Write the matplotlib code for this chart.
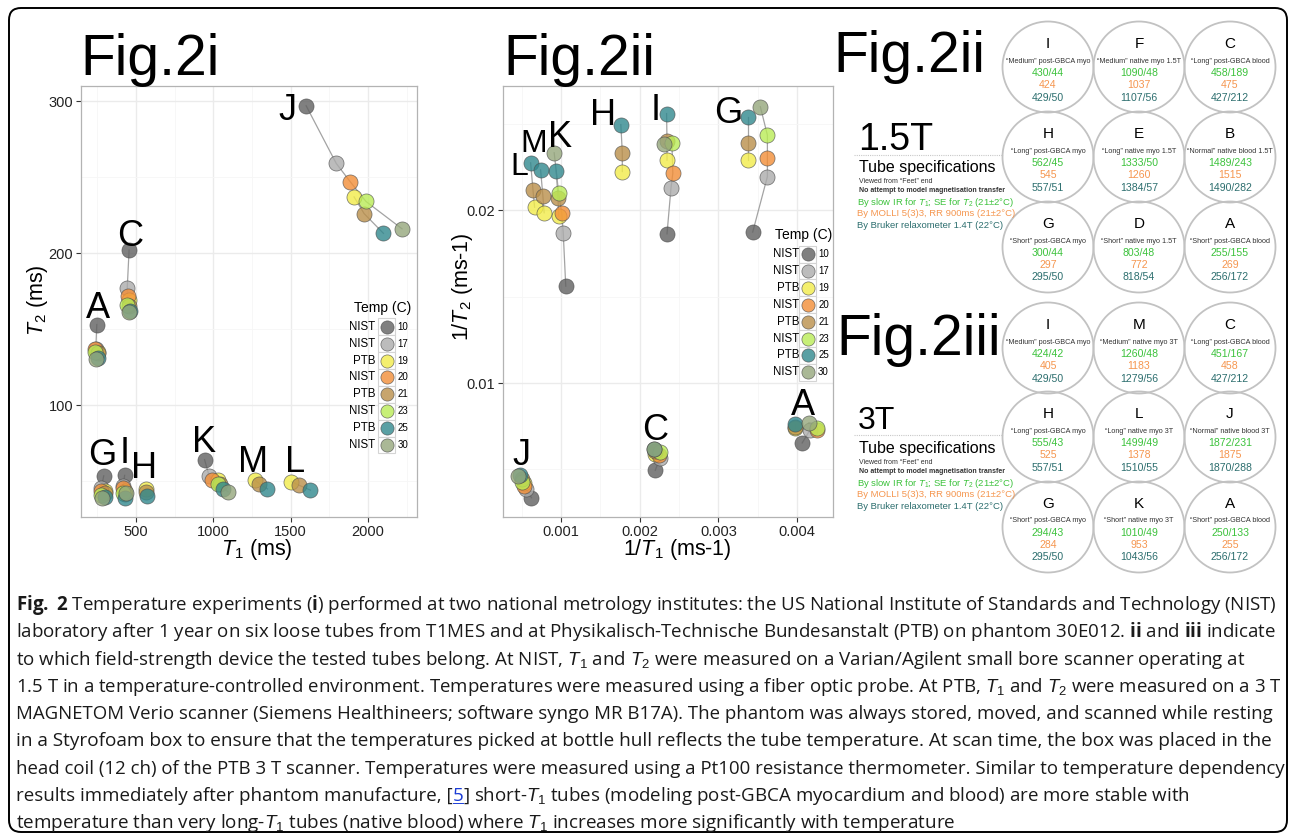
import matplotlib
matplotlib.use("Agg")
import matplotlib.pyplot as plt
import numpy as np
from matplotlib.patches import Circle, Rectangle, FancyBboxPatch

plt.rcParams['font.family'] = ['Liberation Sans', 'DejaVu Sans']
plt.rcParams['mathtext.fontset'] = 'custom'
plt.rcParams['mathtext.rm'] = 'Liberation Sans'
plt.rcParams['mathtext.it'] = 'Liberation Sans:italic'
plt.rcParams['mathtext.bf'] = 'Open Sans:bold'

# ---- data ----
temps = [10, 17, 19, 20, 21, 23, 25, 30]
sites = ["NIST", "NIST", "PTB", "NIST", "PTB", "NIST", "PTB", "NIST"]
temp_colors = ['#606060', '#ababab', '#f2ec4a', '#f28e37',
               '#ba8f4a', '#baec56', '#31888e', '#95a77c']
nan = np.nan

# T1 / T2 (ms) per tube, one value per temperature above (nan = not measured)
A_t1 = [246, 240, 252, 235, 252, 235, 252, 241]
A_t2 = [153, 137, 135, 137, 134, 135, 131, 130]
C_t1 = [455, 443, 455, 446, 455, 443, 459, 457]
C_t2 = [202, 177, 169, 172, 165, 166, 162, 161]
G_t1 = [291, 276, 296, 276, 296, 276, 296, 283]
G_t2 = [53.4, 45.6, 43.7, 43.5, 41.9, 41.1, 39.4, 38.5]
H_t1 = [nan, nan, 562, nan, 562, nan, 568, nan]
H_t2 = [nan, nan, 45.0, nan, 42.9, nan, 40.1, nan]
I_t1 = [426, 417, 426, 413, 426, 415, 427, 434]
I_t2 = [53.7, 47.0, 43.7, 45.2, 41.7, 41.9, 39.1, 42.0]
J_t1 = [1600, 1795, 1910, 1885, 1975, 1987, 2100, 2220]
J_t2 = [297, 259, 237, 247, 226, 234, 213, 216]
K_t1 = [943, 972, 1030, 990, 1040, 1030, 1064, 1095]
K_t2 = [64.1, 53.6, 50.9, 50.5, 48.3, 47.7, 44.9, 42.9]
L_t1 = [nan, nan, 1505, nan, 1552, nan, 1628, nan]
L_t2 = [nan, nan, 49.6, nan, 47.3, nan, 44.0, nan]
M_t1 = [nan, nan, 1272, nan, 1298, nan, 1350, nan]
M_t2 = [nan, nan, 50.4, nan, 48.1, nan, 44.8, nan]

tubes = ["A", "C", "G", "H", "I", "J", "K", "L", "M"]
tube_t1 = dict(zip(tubes, [A_t1, C_t1, G_t1, H_t1, I_t1, J_t1, K_t1, L_t1, M_t1]))
tube_t2 = dict(zip(tubes, [A_t2, C_t2, G_t2, H_t2, I_t2, J_t2, K_t2, L_t2, M_t2]))

# tube specification grids (ref T1/T2, MOLLI T1, Bruker T1/T2)
g15_names = ["I", "F", "C", "H", "E", "B", "G", "D", "A"]
g15_desc = ["“Medium” post-GBCA myo", "“Medium” native myo 1.5T", "“Long” post-GBCA blood",
            "“Long” post-GBCA myo", "“Long” native myo 1.5T", "“Normal” native blood 1.5T",
            "“Short” post-GBCA myo", "“Short” native myo 1.5T", "“Short” post-GBCA blood"]
g15_ref = ["430/44", "1090/48", "458/189", "562/45", "1333/50", "1489/243",
           "300/44", "803/48", "255/155"]
g15_molli = ["424", "1037", "475", "545", "1260", "1515", "297", "772", "269"]
g15_bruker = ["429/50", "1107/56", "427/212", "557/51", "1384/57", "1490/282",
              "295/50", "818/54", "256/172"]

g3_names = ["I", "M", "C", "H", "L", "J", "G", "K", "A"]
g3_desc = ["“Medium” post-GBCA myo", "“Medium” native myo 3T", "“Long” post-GBCA blood",
           "“Long” post-GBCA myo", "“Long” native myo 3T", "“Normal” native blood 3T",
           "“Short” post-GBCA myo", "“Short” native myo 3T", "“Short” post-GBCA blood"]
g3_ref = ["424/42", "1260/48", "451/167", "555/43", "1499/49", "1872/231",
          "294/43", "1010/49", "250/133"]
g3_molli = ["405", "1183", "458", "525", "1378", "1875", "284", "953", "255"]
g3_bruker = ["429/50", "1279/56", "427/212", "557/51", "1510/55", "1870/288",
             "295/50", "1043/56", "256/172"]

GREEN, ORANGE, TEAL = "#3cc23c", "#f5964f", "#2c6e6e"

# ---- layout ----
W, H = 1292, 833
fig = plt.figure(figsize=(W / 100, H / 100), dpi=100)


def frame(l, t, r, b):
    return [l / W, 1 - b / H, (r - l) / W, (b - t) / H]


ax1 = fig.add_axes(frame(81, 86, 417, 517))
ax2 = fig.add_axes(frame(503, 86, 833, 517))


def style_axes(ax):
    for sp in ax.spines.values():
        sp.set_color("#b3b3b3")
        sp.set_linewidth(0.9)
    ax.grid(True, which="major", color="#ebebeb", lw=1.0, zorder=0)
    ax.grid(True, which="minor", color="#f6f6f6", lw=0.6, zorder=0)
    ax.set_axisbelow(True)
    ax.tick_params(which="major", length=3.5, color="#333333", labelsize=10.5,
                   labelcolor="#222222", pad=2)
    ax.tick_params(which="minor", length=0)


def draw_tubes(ax, inverse):
    for name in tubes:
        x = np.array(tube_t1[name], float)
        y = np.array(tube_t2[name], float)
        if inverse:
            x, y = 1 / x, 1 / y
        for site in ("NIST", "PTB"):
            idx = [i for i, s in enumerate(sites) if s == site and not np.isnan(x[i])]
            ax.plot(x[idx], y[idx], color="#a3a3a3", lw=0.9, zorder=2)
        for i in range(len(temps)):
            if not np.isnan(x[i]):
                ax.scatter(x[i], y[i], s=118, color=temp_colors[i], edgecolor="#4d4d4d",
                           linewidth=0.5, alpha=0.8, zorder=3)


def temp_legend(ax, kx, ky, tx, ty, sx, nx, bw):
    dy = 16.9 / 431
    ax.text(tx, ty, "Temp (C)", transform=ax.transAxes, ha="center", va="center",
            fontsize=10)
    for i, (t, s, c) in enumerate(zip(temps, sites, temp_colors)):
        y = ky - i * dy
        ax.add_patch(Rectangle((kx - bw / 2, y - dy / 2), bw, dy, transform=ax.transAxes,
                               facecolor="white", edgecolor="#d4d4d4", lw=0.8, zorder=4))
        ax.scatter(kx, y, s=90, color=c, edgecolor="#4d4d4d", linewidth=0.5, alpha=0.8,
                   transform=ax.transAxes, zorder=5)
        ax.text(sx, y, s, transform=ax.transAxes, ha="right", va="center", fontsize=8.3)
        ax.text(nx, y, str(t), transform=ax.transAxes, ha="left", va="center", fontsize=7)


# Fig.2i : T1 vs T2
style_axes(ax1)
draw_tubes(ax1, inverse=False)
ax1.set_xlim(144, 2317)
ax1.set_ylim(26.3, 310)
ax1.set_xticks([500, 1000, 1500, 2000])
ax1.set_xticks([250, 750, 1250, 1750, 2250], minor=True)
ax1.set_yticks([100, 200, 300])
ax1.set_yticks([50, 150, 250], minor=True)
ax1.set_xlabel("$T_1$ (ms)", fontsize=15.5)
ax1.set_ylabel("$T_2$ (ms)", fontsize=15.5)
ax1.xaxis.set_label_coords(0.524, -0.046)
ax1.yaxis.set_label_coords(-0.092, 0.503)
lab1 = {"J": (1476, 287.5), "A": (254, 157), "C": (461, 205), "G": (280, 60.5),
        "I": (429, 62), "H": (552, 52), "K": (940, 69), "M": (1256, 56), "L": (1528, 56)}
for name, (lx, ly) in lab1.items():
    ax1.text(lx, ly, name, fontsize=26, ha="center", va="baseline", zorder=6)
temp_legend(ax1, 0.910, 0.4415, 0.897, 0.485, 0.875, 0.9426, 17 / 336)

# Fig.2ii : 1/T1 vs 1/T2
style_axes(ax2)
draw_tubes(ax2, inverse=True)
ax2.set_xlim(0.000263, 0.004457)
ax2.set_ylim(0.002254, 0.02717)
ax2.set_xticks([0.001, 0.002, 0.003, 0.004])
ax2.set_xticklabels(["0.001", "0.002", "0.003", "0.004"])
ax2.set_xticks([0.0005, 0.0015, 0.0025, 0.0035], minor=True)
ax2.set_yticks([0.01, 0.02])
ax2.set_yticklabels(["0.01", "0.02"])
ax2.set_yticks([0.005, 0.015, 0.025], minor=True)
ax2.set_xlabel("1/$T_1$ (ms-1)", fontsize=15.5)
ax2.set_ylabel("1/$T_2$ (ms-1)", fontsize=15.5)
ax2.xaxis.set_label_coords(0.527, -0.046)
ax2.yaxis.set_label_coords(-0.085, 0.534)
lab2 = {"L": (0.000466, 0.02202), "M": (0.000657, 0.02335), "K": (0.000987, 0.02364),
        "H": (0.001534, 0.02491), "I": (0.002207, 0.0252), "G": (0.003122, 0.02503),
        "A": (0.004075, 0.00815), "C": (0.002194, 0.00671), "J": (0.000492, 0.00526)}
for name, (lx, ly) in lab2.items():
    fs = 23 if name in ("L", "M") else 26
    ax2.text(lx, ly, name, fontsize=fs, ha="center", va="baseline", zorder=6)
temp_legend(ax2, 0.924, 0.610, 0.911, 0.654, 0.897, 0.955, 17 / 330)

# overlay in pixel coordinates for titles, tables and caption
ov = fig.add_axes([0, 0, 1, 1])
ov.set_xlim(0, W)
ov.set_ylim(H, 0)
ov.axis("off")

ov.add_patch(FancyBboxPatch((9, 8), 1278, 824, boxstyle="round,pad=0,rounding_size=12",
                            facecolor="none", edgecolor="black", lw=1.4))

for txt, x, y in [("Fig.2i", 80, 75), ("Fig.2ii", 503, 75), ("Fig.2ii", 833, 72),
                  ("Fig.2iii", 836, 355)]:
    ov.text(x, y, txt, fontsize=41, ha="left", va="baseline")


def spec_block(field, fs, y_field, y_line, y_spec):
    ov.text(858, y_field, field, fontsize=fs, ha="left", va="baseline")
    ov.plot([854, 1003], [y_line, y_line], color="#c8c8c8", lw=0.8, ls=(0, (1, 1)))
    ov.text(859, y_spec, "Tube specifications", fontsize=11.5, ha="left", va="baseline")
    ov.text(859, y_spec + 11, "Viewed from “Feet” end", fontsize=5, ha="left",
            va="baseline", color="#333333")
    ov.text(859, y_spec + 20, "No attempt to model magnetisation transfer", fontsize=5,
            ha="left", va="baseline", fontweight="bold", color="#333333")
    ov.text(857, y_spec + 30, r"By slow IR for $T_1$; SE for $T_2$ (21±2°C)", fontsize=6.8,
            ha="left", va="center", color=GREEN)
    ov.text(857, y_spec + 41.5, "By MOLLI 5(3)3, RR 900ms (21±2°C)", fontsize=6.8,
            ha="left", va="center", color=ORANGE)
    ov.text(857, y_spec + 53, "By Bruker relaxometer 1.4T (22°C)", fontsize=6.8,
            ha="left", va="center", color=TEAL)


spec_block("1.5T", 27, 150, 155, 172)
spec_block("3T", 23, 429, 435, 453)


def tube_grid(names, desc, ref, molli, bruker, letter_rows):
    cols = [1048, 1139, 1230]
    for k in range(9):
        cx = cols[k % 3]
        ly = letter_rows[k // 3]
        cy = ly + 23
        ov.add_patch(Circle((cx, cy), 45.5, facecolor="none", edgecolor="#c2c2c2", lw=1.3))
        ov.text(cx, ly, names[k], fontsize=11, ha="center", va="center")
        ov.text(cx, cy - 6, desc[k], fontsize=5.2, ha="center", va="center", color="#333333")
        ov.text(cx, cy + 5.5, ref[k], fontsize=7.6, ha="center", va="center", color=GREEN)
        ov.text(cx, cy + 18, molli[k], fontsize=7.6, ha="center", va="center", color=ORANGE)
        ov.text(cx, cy + 30.5, bruker[k], fontsize=7.6, ha="center", va="center", color=TEAL)


tube_grid(g15_names, g15_desc, g15_ref, g15_molli, g15_bruker, [44, 134, 224])
tube_grid(g3_names, g3_desc, g3_ref, g3_molli, g3_bruker, [325, 414, 504])

# caption: each line is a list of (text, colour) runs, fitted to the right end seen
cap_lines = [
    [(r"$\mathbf{Fig.\ 2}$ Temperature experiments ($\mathbf{i}$) performed at two national metrology institutes: the US National Institute of Standards and Technology (NIST)", None)],
    [(r"laboratory after 1 year on six loose tubes from T1MES and at Physikalisch-Technische Bundesanstalt (PTB) on phantom 30E012. $\mathbf{ii}$ and $\mathbf{iii}$ indicate", None)],
    [(r"to which field-strength device the tested tubes belong. At NIST, $T_1$ and $T_2$ were measured on a Varian/Agilent small bore scanner operating at", None)],
    [(r"1.5 T in a temperature-controlled environment. Temperatures were measured using a fiber optic probe. At PTB, $T_1$ and $T_2$ were measured on a 3 T", None)],
    [("MAGNETOM Verio scanner (Siemens Healthineers; software syngo MR B17A). The phantom was always stored, moved, and scanned while resting", None)],
    [("in a Styrofoam box to ensure that the temperatures picked at bottle hull reflects the tube temperature. At scan time, the box was placed in the", None)],
    [("head coil (12 ch) of the PTB 3 T scanner. Temperatures were measured using a Pt100 resistance thermometer. Similar to temperature dependency", None)],
    [("results immediately after phantom manufacture, [", None), ("5", "#1a3cd6"),
     (r"] short-$T_1$ tubes (modeling post-GBCA myocardium and blood) are more stable with", None)],
    [(r"temperature than very long-$T_1$ tubes (native blood) where $T_1$ increases more significantly with temperature", None)],
]
cap_right = [1277, 1272, 1240, 1277, 1265, 1265, 1274, 1190, 952]
cap_font = ['Open Sans', 'DejaVu Sans']
base0, step = 610, 27.3
renderer = fig.canvas.get_renderer()

for i, runs in enumerate(cap_lines):
    y = base0 + i * step
    arts = []
    for txt, col in runs:
        arts.append(ov.text(16, y, txt, fontsize=12, ha="left", va="baseline",
                            family=cap_font, color=col or "#1a1a1a"))
    total = sum(a.get_window_extent(renderer).width for a in arts)
    fs = 12 * (cap_right[i] - 16) / total
    x = 16
    for a, (txt, col) in zip(arts, runs):
        a.set_fontsize(fs)
        a.set_x(x)
        w = a.get_window_extent(renderer).width
        if col is not None:
            ov.plot([x, x + w], [y + 2, y + 2], color=col, lw=0.7)
        x += w

fig.savefig("out.png", dpi=100)
